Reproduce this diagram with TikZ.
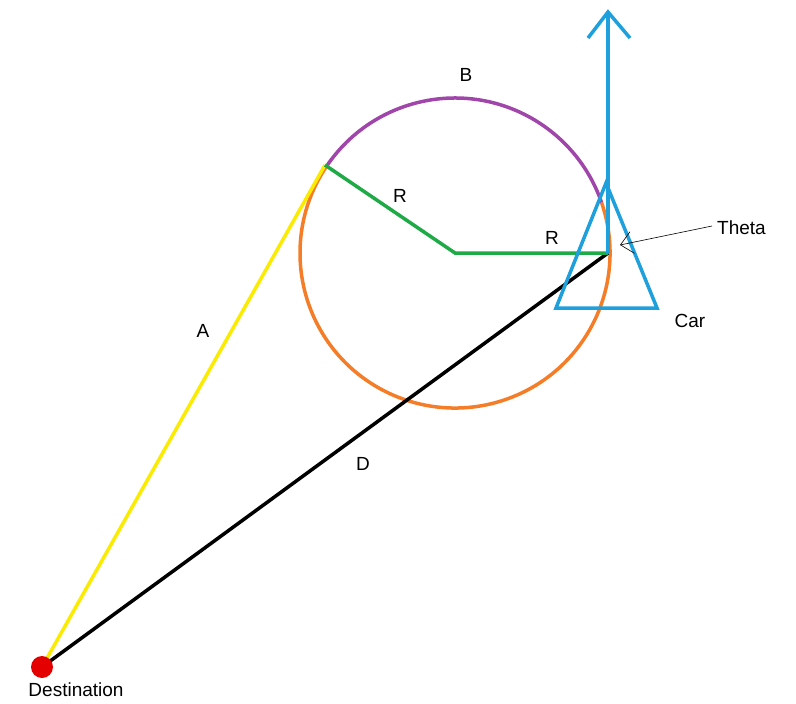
\documentclass[tikz,border=0pt]{standalone}
\usepackage{fontspec}
\setmainfont{Liberation Sans}
\usetikzlibrary{arrows.meta}
\definecolor{cblue}{RGB}{30,160,220}
\definecolor{cpurple}{RGB}{160,70,170}
\definecolor{corange}{RGB}{245,125,40}
\definecolor{cgreen}{RGB}{30,170,70}
\definecolor{cyellow}{RGB}{250,235,0}
\tikzset{thick line/.style={line width=3.5pt},lbl/.style={font=\fontsize{19}{22}\selectfont,inner sep=0pt}}
\begin{document}
\begin{tikzpicture}[x=1pt,y=-1pt]
\useasboundingbox (0,0) rectangle (796,704);
\coordinate (O) at (455,253);
\coordinate (T) at (325,165);
\coordinate (C) at (608,253);
\coordinate (Dst) at (42,667);
\draw[corange,thick line] (O) ++(-19:155) arc[start angle=-19,end angle=214,radius=155];
\draw[cpurple,thick line] (O) ++(-146:155) arc[start angle=-146,end angle=-19,radius=155];
\draw[cyellow,thick line] (Dst) -- (T);
\draw[black,thick line] (Dst) -- (C);
\draw[cgreen,thick line] (T) -- (O) -- (C);
\draw[cblue,thick line] (606,183) -- (556,308) -- (657,308) -- cycle;
\coordinate (tip) at (608,12);
\draw[cblue,thick line] (C) -- (tip);
\draw[cblue,thick line] (588,38) -- (tip) -- (630,38);
\fill[red!90!black] (Dst) circle (11);
\coordinate (th) at (712,226);
\draw[black,line width=0.6pt,-{Straight Barb[length=12pt,width=22pt]}] (th) -- (620,245);
\node[lbl] (lB) at (466,75) {B};
\node[lbl] (lR1) at (400,196) {R};
\node[lbl] (lR2) at (552,238) {R};
\node[lbl] (lA) at (203,331) {A};
\node[lbl] (lD) at (363,464) {D};
\node[lbl] (lCar) at (690,321) {Car};
\node[lbl,anchor=west] (lTh) at (717,228) {Theta};
\node[lbl] (lDst) at (76,690) {Destination};
\end{tikzpicture}
\end{document}
